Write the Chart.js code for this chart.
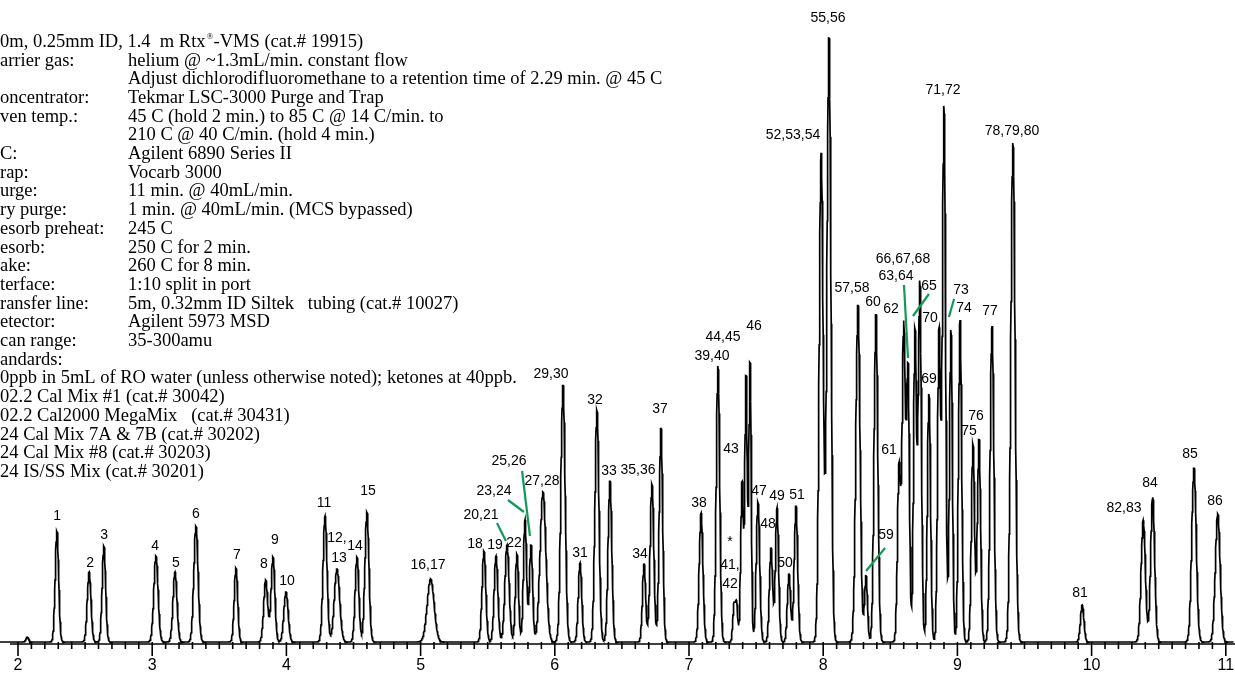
<!DOCTYPE html>
<html lang="en">
<head>
<meta charset="UTF-8">
<title>Volatiles chromatogram</title>
<script src="https://cdn.jsdelivr.net/npm/chart.js"></script>
<style>
  html, body { margin: 0; padding: 0; background: #fff; }
</style>
</head>
<body>
<canvas id="chrom" width="1235" height="675"></canvas>
<script>
// peak table: retention time (min), height, width (sigma, min)
const peakTimes = [2.07, 2.29, 2.53, 2.64, 3.028, 3.17, 3.326, 3.624, 3.846, 3.90, 3.997,
  4.288, 4.377, 4.526, 4.60, 5.075, 5.472, 5.562, 5.644, 5.718, 5.778, 5.823, 5.912,
  6.061, 6.188, 6.314, 6.411, 6.665, 6.724, 6.791, 7.09, 7.216, 7.335, 7.355, 7.395,
  7.425, 7.455, 7.514, 7.611, 7.656, 7.745, 7.797, 7.985, 8.043, 8.259, 8.319, 8.393,
  8.565, 8.60, 8.632, 8.684, 8.72, 8.788, 8.863, 8.90, 8.952, 9.02, 9.116, 9.161,
  9.258, 9.414, 9.93, 10.385, 10.455, 10.763, 10.94];
const peakHeights = [5, 111, 70, 96, 86, 70, 116, 74, 62, 85, 50,
  126, 73, 85, 130, 63, 91, 86, 97, 88, 122, 97, 150,
  257, 79, 232, 161, 78, 158, 214, 129, 276, 36, 38, 160,
  265, 280, 140, 94, 134, 68, 136, 490, 605, 337, 66, 328,
  175, 315, 270, 310, 360, 248, 310, 535, 312, 322, 198, 203,
  316, 499, 37, 122, 145, 174, 128];
const peakWidths = [0.01, 0.013, 0.014, 0.013, 0.016, 0.015, 0.016, 0.013, 0.015, 0.014, 0.016,
  0.015, 0.02, 0.014, 0.015, 0.026, 0.014, 0.014, 0.016, 0.012, 0.012, 0.012, 0.022,
  0.016, 0.013, 0.015, 0.014, 0.012, 0.014, 0.013, 0.014, 0.013, 0.009, 0.009, 0.010,
  0.009, 0.009, 0.013, 0.012, 0.012, 0.012, 0.013, 0.015, 0.015, 0.016, 0.011, 0.014,
  0.012, 0.012, 0.011, 0.011, 0.012, 0.012, 0.011, 0.012, 0.011, 0.012, 0.012, 0.012,
  0.014, 0.016, 0.013, 0.016, 0.015, 0.017, 0.018];

// peak numbers and where they sit (time, height)
const labelTexts = ['1', '2', '3', '4', '5', '6', '7', '8', '9', '10', '11', '12,', '14', '13', '15',
  '16,17', '18', '19', '20,21', '22', '23,24', '25,26', '27,28', '29,30', '31', '32', '33', '34',
  '35,36', '37', '38', '39,40', '*', '41,', '42', '43', '44,45', '46', '47', '48', '49', '50', '51',
  '52,53,54', '55,56', '57,58', '59', '60', '61', '62', '63,64', '66,67,68', '65', '70', '69',
  '71,72', '73', '74', '75', '76', '77', '78,79,80', '81', '82,83', '84', '85', '86'];
const labelTimes = [2.291, 2.537, 2.641, 3.021, 3.177, 3.326, 3.632, 3.833, 3.915, 4.004, 4.280, 4.377, 4.511, 4.392, 4.608,
  5.055, 5.405, 5.554, 5.450, 5.696, 5.547, 5.659, 5.905, 5.972, 6.188, 6.300, 6.404, 6.635,
  6.620, 6.784, 7.074, 7.171, 7.305, 7.305, 7.305, 7.313, 7.253, 7.484, 7.522, 7.589, 7.656, 7.715, 7.805,
  7.775, 8.036, 8.215, 8.468, 8.371, 8.490, 8.505, 8.542, 8.594, 8.788, 8.796, 8.788,
  8.893, 9.027, 9.049, 9.086, 9.139, 9.243, 9.407, 9.914, 10.241, 10.435, 10.733, 10.919];
const labelHeights = [126, 79, 107, 96, 79, 128, 87, 78, 102, 61, 139, 104, 96, 84, 151,
  77, 98, 97, 127, 99, 151, 181, 161, 268, 89, 242, 171, 88,
  172, 233, 139, 286, 100, 77, 58, 193, 305, 316, 151, 118, 146, 79, 147,
  507, 624, 354, 107, 340, 192, 333, 366, 383, 356, 324, 263,
  552, 352, 334, 211, 226, 331, 511, 49, 134, 159, 188, 141];

// green leader lines: [time1, height1, time2, height2]
const leaderLines = [
  [5.569, 119, 5.636, 101], [5.651, 142, 5.770, 130], [5.756, 171, 5.815, 106],
  [8.461, 94, 8.319, 71], [8.602, 357, 8.632, 284], [8.788, 348, 8.669, 326], [8.975, 343, 8.937, 325]
];

const tickValues = [2, 3, 4, 5, 6, 7, 8, 9, 10, 11];
const tickLabels = ['2', '3', '4', '5', '6', '7', '8', '9', '10', '11'];

// conditions block, left column cut off as in the original
const condLabels = ['', 'arrier gas:', '', 'oncentrator:', 'ven temp.:', '', 'C:', 'rap:', 'urge:', 'ry purge:',
  'esorb preheat:', 'esorb:', 'ake:', 'terface:', 'ransfer line:', 'etector:', 'can range:', 'andards:'];
const condValues = ['', 'helium @ ~1.3mL/min. constant flow',
  'Adjust dichlorodifluoromethane to a retention time of 2.29 min. @ 45 C',
  'Tekmar LSC-3000 Purge and Trap', '45 C (hold 2 min.) to 85 C @ 14 C/min. to',
  '210 C @ 40 C/min. (hold 4 min.)', 'Agilent 6890 Series II', 'Vocarb 3000', '11 min. @ 40mL/min.',
  '1 min. @ 40mL/min. (MCS bypassed)', '245 C', '250 C for 2 min.', '260 C for 8 min.',
  '1:10 split in port', '5m, 0.32mm ID Siltek   tubing (cat.# 10027)', 'Agilent 5973 MSD', '35-300amu', ''];
const columnLine = '0m, 0.25mm ID, 1.4  m Rtx';
const columnLineEnd = '-VMS (cat.# 19915)';
const standards = ['0ppb in 5mL of RO water (unless otherwise noted); ketones at 40ppb.',
  '02.2 Cal Mix #1 (cat.# 30042)', '02.2 Cal2000 MegaMix   (cat.# 30431)',
  '24 Cal Mix 7A & 7B (cat.# 30202)', '24 Cal Mix #8 (cat.# 30203)', '24 IS/SS Mix (cat.# 30201)'];

// build the detector trace from the peak table
const trace = [];
for (let k = 0; k <= 4600; k++) {
  const t = 1.86 + k * 0.002;
  let y = 0;
  for (let i = 0; i < peakTimes.length; i++) {
    const d = (t - peakTimes[i]) / peakWidths[i];
    if (Math.abs(d) < 7) y += peakHeights[i] * Math.exp(-0.5 * d * d);
  }
  trace.push({ x: t, y: y });
}

const decor = {
  id: 'decor',
  afterDatasetsDraw(chart) {
    const ctx = chart.ctx;
    const xs = chart.scales.x, ys = chart.scales.y;
    const axisY = 644;
    ctx.save();

    // axis line and ticks
    ctx.strokeStyle = '#000';
    ctx.lineWidth = 1.5;
    ctx.beginPath();
    ctx.moveTo(10, axisY);
    ctx.lineTo(1235, axisY);
    ctx.stroke();
    ctx.lineWidth = 1.6;
    for (let m = 20; m <= 110; m++) {
      const px = xs.getPixelForValue(m / 10);
      ctx.beginPath();
      ctx.moveTo(px, axisY - 2);
      ctx.lineTo(px, m % 10 === 0 ? axisY + 12 : axisY + 5);
      ctx.stroke();
    }
    ctx.fillStyle = '#000';
    ctx.font = '16px "Liberation Sans", Arial, sans-serif';
    ctx.textAlign = 'center';
    ctx.textBaseline = 'middle';
    tickValues.forEach((v, i) => ctx.fillText(tickLabels[i], xs.getPixelForValue(v), 666));

    // peak labels
    ctx.font = '14px "Liberation Sans", Arial, sans-serif';
    labelTexts.forEach((txt, i) => {
      ctx.fillText(txt, xs.getPixelForValue(labelTimes[i]), ys.getPixelForValue(labelHeights[i]));
    });

    // leader lines
    ctx.strokeStyle = '#12995a';
    ctx.lineWidth = 2.2;
    leaderLines.forEach(l => {
      ctx.beginPath();
      ctx.moveTo(xs.getPixelForValue(l[0]), ys.getPixelForValue(l[1]));
      ctx.lineTo(xs.getPixelForValue(l[2]), ys.getPixelForValue(l[3]));
      ctx.stroke();
    });

    // instrument conditions
    const serif = '"Liberation Serif", "Times New Roman", serif';
    ctx.font = '18.5px ' + serif;
    ctx.textAlign = 'left';
    const top = 42, step = 18.7, valueX = 128;
    ctx.fillText(columnLine, 0, top);
    let w = ctx.measureText(columnLine).width;
    ctx.font = '9px ' + serif;
    ctx.fillText('®', w + 1, top - 5);
    ctx.font = '18.5px ' + serif;
    ctx.fillText(columnLineEnd, w + 8, top);
    condLabels.forEach((s, i) => {
      if (s) ctx.fillText(s, 0, top + i * step);
      if (condValues[i]) ctx.fillText(condValues[i], valueX, top + i * step);
    });
    standards.forEach((s, i) => ctx.fillText(s, 0, top + (18 + i) * step));
    ctx.restore();
  }
};

new Chart(document.getElementById('chrom').getContext('2d'), {
  type: 'line',
  data: {
    datasets: [{
      data: trace,
      borderColor: '#000',
      borderWidth: 1.7,
      pointRadius: 0,
      tension: 0,
      fill: false
    }]
  },
  options: {
    responsive: false,
    animation: false,
    devicePixelRatio: 1,
    layout: { padding: { left: 0, right: 0, top: 0, bottom: 31 } },
    scales: {
      x: { type: 'linear', min: 2 - 18 / 134.2, max: 2 + 1217 / 134.2, display: false },
      y: { min: -2, max: 642, display: false }
    },
    plugins: { legend: { display: false }, tooltip: { enabled: false } }
  },
  plugins: [decor]
});
</script>
</body>
</html>
